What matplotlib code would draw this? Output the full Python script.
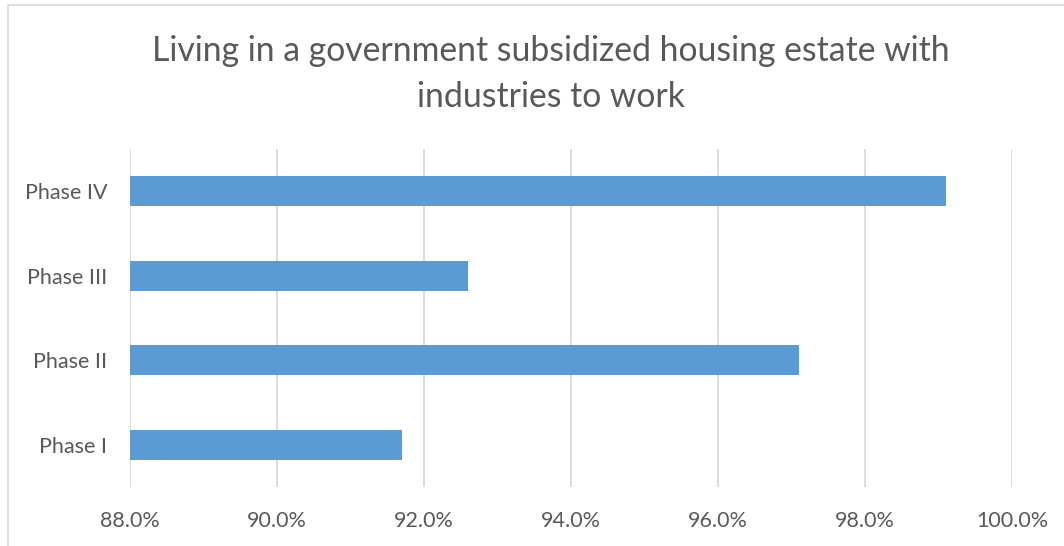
import matplotlib.pyplot as plt
from matplotlib.patches import Rectangle
from matplotlib.ticker import FuncFormatter

phases = ['Phase I', 'Phase II', 'Phase III', 'Phase IV']
values = [91.7, 97.1, 92.6, 99.1]
xticks = [88, 90, 92, 94, 96, 98, 100]
title_lines = ['Living in a government subsidized housing estate with', 'industries to work']

plt.rcParams['font.family'] = ['Lato', 'DejaVu Sans']
gray = '#595959'

fig = plt.figure(figsize=(10.64, 5.46), dpi=100)
# chart frame
fig.patches.append(Rectangle((8 / 1064, -0.01), 1.02, (546 - 5) / 546 + 0.01,
                             transform=fig.transFigure, fill=False,
                             edgecolor='#d9d9d9', linewidth=1.2))

ax = fig.add_axes([130 / 1064, 59 / 546, 882 / 1064, 338 / 546])
ax.barh(range(len(phases)), values, height=0.355, color='#5b9bd5', zorder=3)

ax.set_xlim(88, 100)
ax.set_ylim(-0.5, len(phases) - 0.5)
ax.set_xticks(xticks)
ax.xaxis.set_major_formatter(FuncFormatter(lambda v, p: f'{v:.1f}%'))
ax.set_yticks(range(len(phases)))
ax.set_yticklabels(phases)
ax.grid(axis='x', color='#d9d9d9', linewidth=1.3, zorder=0)
for s in ax.spines.values():
    s.set_visible(False)
ax.tick_params(axis='both', length=0, colors=gray, labelsize=15.5)
ax.tick_params(axis='x', pad=17)
ax.tick_params(axis='y', pad=16.5)

# title, two lines placed on their baselines
for line, base in zip(title_lines, [61, 107]):
    fig.text(551 / 1064, 1 - base / 546, line, ha='center', va='baseline',
             fontsize=24.3, color=gray)

fig.savefig('out.png', dpi=100)
